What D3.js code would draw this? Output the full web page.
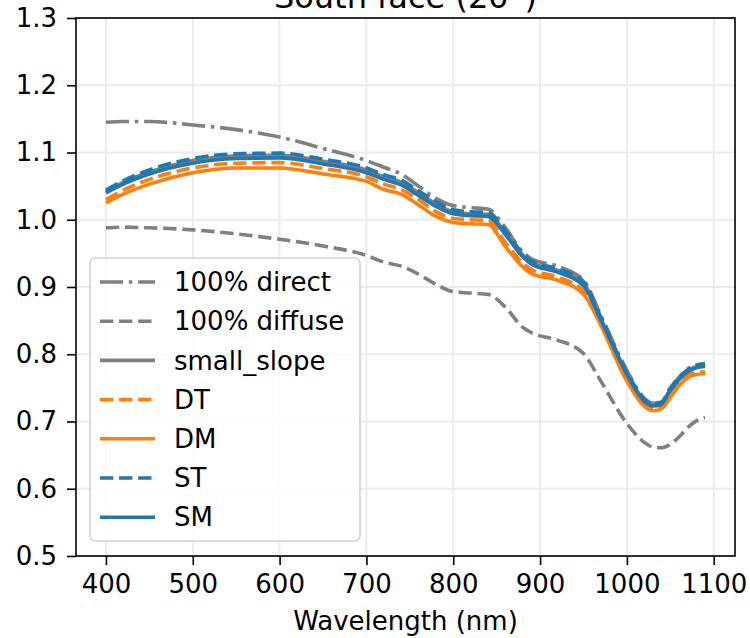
<!DOCTYPE html>
<html>
<head>
<meta charset="utf-8">
<script src="https://cdn.jsdelivr.net/npm/d3@7"></script>
<style>
  body { margin: 0; background: #fff; }
  text { font-family: "DejaVu Sans", sans-serif; }
</style>
</head>
<body>
<svg id="chart" width="750" height="638"></svg>
<script>
var wavelengths = [400, 420, 450, 500, 550, 600, 650, 700, 720, 740, 760, 780, 800, 820, 840, 860, 880, 890, 920, 950, 970, 1000, 1020, 1030, 1040, 1050, 1060, 1070, 1080, 1090];

var direct = [1.145, 1.146, 1.146, 1.141, 1.134, 1.123, 1.106, 1.088, 1.078, 1.068, 1.050, 1.032, 1.021, 1.018, 1.016, 0.988, 0.952, 0.942, 0.931, 0.910, 0.858, 0.776, 0.735, 0.727, 0.730, 0.750, 0.766, 0.778, 0.784, 0.786];
var diffuse = [0.988, 0.989, 0.988, 0.985, 0.979, 0.971, 0.961, 0.947, 0.937, 0.931, 0.919, 0.904, 0.893, 0.891, 0.889, 0.870, 0.840, 0.832, 0.821, 0.801, 0.760, 0.697, 0.669, 0.662, 0.661, 0.666, 0.677, 0.691, 0.701, 0.706];
var smallSlope = [1.042, 1.056, 1.071, 1.088, 1.095, 1.096, 1.087, 1.074, 1.064, 1.056, 1.040, 1.024, 1.012, 1.009, 1.008, 0.981, 0.948, 0.937, 0.925, 0.906, 0.853, 0.772, 0.732, 0.725, 0.728, 0.748, 0.764, 0.776, 0.782, 0.784];
var DT = [1.030, 1.044, 1.060, 1.077, 1.084, 1.085, 1.076, 1.064, 1.053, 1.045, 1.030, 1.012, 1.002, 1.000, 0.999, 0.966, 0.936, 0.926, 0.915, 0.894, 0.848, 0.765, 0.727, 0.719, 0.722, 0.739, 0.757, 0.769, 0.773, 0.774];
var DM = [1.025, 1.038, 1.053, 1.070, 1.077, 1.077, 1.068, 1.057, 1.045, 1.038, 1.022, 1.005, 0.996, 0.994, 0.993, 0.960, 0.930, 0.920, 0.910, 0.889, 0.843, 0.760, 0.723, 0.716, 0.719, 0.736, 0.753, 0.765, 0.770, 0.771];
var ST = [1.044, 1.058, 1.074, 1.091, 1.098, 1.099, 1.090, 1.077, 1.067, 1.059, 1.043, 1.027, 1.015, 1.012, 1.011, 0.984, 0.950, 0.939, 0.927, 0.908, 0.855, 0.773, 0.733, 0.726, 0.729, 0.749, 0.765, 0.777, 0.783, 0.785];
var SM = [1.040, 1.053, 1.068, 1.084, 1.091, 1.092, 1.083, 1.070, 1.060, 1.052, 1.036, 1.020, 1.009, 1.006, 1.005, 0.978, 0.945, 0.934, 0.922, 0.902, 0.851, 0.770, 0.730, 0.723, 0.726, 0.746, 0.762, 0.774, 0.780, 0.782];

var xTicks = [400, 500, 600, 700, 800, 900, 1000, 1100];
var yTicks = [0.5, 0.6, 0.7, 0.8, 0.9, 1.0, 1.1, 1.2, 1.3];

var lw = 3.6, fs = 26;
var series = [
  {name: "100% direct", values: direct, color: "#808080", dash: [6.4*lw, 1.6*lw, 1*lw, 1.6*lw]},
  {name: "100% diffuse", values: diffuse, color: "#808080", dash: [3.7*lw, 1.6*lw]},
  {name: "small_slope", values: smallSlope, color: "#808080", dash: null},
  {name: "DT", values: DT, color: "#ff7f0e", dash: [3.7*lw, 1.6*lw]},
  {name: "DM", values: DM, color: "#ff7f0e", dash: null},
  {name: "ST", values: ST, color: "#1f77b4", dash: [3.7*lw, 1.6*lw]},
  {name: "SM", values: SM, color: "#1f77b4", dash: null}
];

var margin = {top: 18, right: 15, bottom: 82, left: 76},
    width = 750 - margin.left - margin.right,
    height = 638 - margin.top - margin.bottom;

var svg = d3.select("#chart");
var g = svg.append("g")
    .attr("transform", "translate(" + margin.left + "," + margin.top + ")");

var x = d3.scaleLinear().domain([365.5, 1124.5]).range([0, width]);
var y = d3.scaleLinear().domain([0.5, 1.3]).range([height, 0]);

// grid
g.append("g").selectAll("line").data(xTicks).enter().append("line")
    .attr("x1", function(d) { return x(d); }).attr("x2", function(d) { return x(d); })
    .attr("y1", 0).attr("y2", height)
    .attr("stroke", "#ebebeb").attr("stroke-width", 1.8);
g.append("g").selectAll("line").data(yTicks).enter().append("line")
    .attr("y1", function(d) { return y(d); }).attr("y2", function(d) { return y(d); })
    .attr("x1", 0).attr("x2", width)
    .attr("stroke", "#ebebeb").attr("stroke-width", 1.8);

// lines
var line = d3.line()
    .x(function(d) { return x(d[0]); })
    .y(function(d) { return y(d[1]); })
    .curve(d3.curveMonotoneX);

series.forEach(function(s) {
  g.append("path")
      .datum(wavelengths.map(function(w, i) { return [w, s.values[i]]; }))
      .attr("d", line)
      .attr("fill", "none")
      .attr("stroke", s.color)
      .attr("stroke-width", lw)
      .attr("stroke-dasharray", s.dash ? s.dash.join(",") : null);
});

// axes
var xAxis = g.append("g")
    .attr("transform", "translate(0," + height + ")")
    .call(d3.axisBottom(x).tickValues(xTicks).tickSize(9).tickPadding(10).tickFormat(d3.format("d")));
var yAxis = g.append("g")
    .call(d3.axisLeft(y).tickValues(yTicks).tickSize(9).tickPadding(10).tickFormat(d3.format(".1f")));
[xAxis, yAxis].forEach(function(a) {
  a.select(".domain").remove();
  a.selectAll(".tick line").attr("stroke", "#000").attr("stroke-width", 1.6);
  a.selectAll(".tick text").attr("font-size", fs).attr("fill", "#000")
      .style("font-family", "DejaVu Sans");
});

// frame
g.append("rect")
    .attr("width", width).attr("height", height)
    .attr("fill", "none").attr("stroke", "#000").attr("stroke-width", 1.6);

// labels
svg.append("text")
    .attr("x", margin.left + width / 2).attr("y", 630)
    .attr("text-anchor", "middle").attr("font-size", fs)
    .text("Wavelength (nm)");
svg.append("text")
    .attr("x", margin.left + width / 2).attr("y", 8)
    .attr("text-anchor", "middle").attr("font-size", 32)
    .text("South face (20°)");

// legend
var legend = g.append("g").attr("transform", "translate(14,240)");
legend.append("rect")
    .attr("width", 270).attr("height", 283).attr("rx", 5)
    .attr("fill", "#fff").attr("fill-opacity", 0.8)
    .attr("stroke", "#d0d0d0").attr("stroke-width", 1.6);
var rows = legend.selectAll("g.row").data(series).enter().append("g")
    .attr("transform", function(d, i) { return "translate(0," + (24 + i * 39.2) + ")"; });
rows.append("line")
    .attr("x1", 10).attr("x2", 65)
    .attr("stroke", function(d) { return d.color; })
    .attr("stroke-width", lw)
    .attr("stroke-dasharray", function(d) { return d.dash ? d.dash.join(",") : null; });
rows.append("text")
    .attr("x", 84).attr("dy", "0.35em")
    .attr("font-size", fs)
    .text(function(d) { return d.name; });
</script>
</body>
</html>
